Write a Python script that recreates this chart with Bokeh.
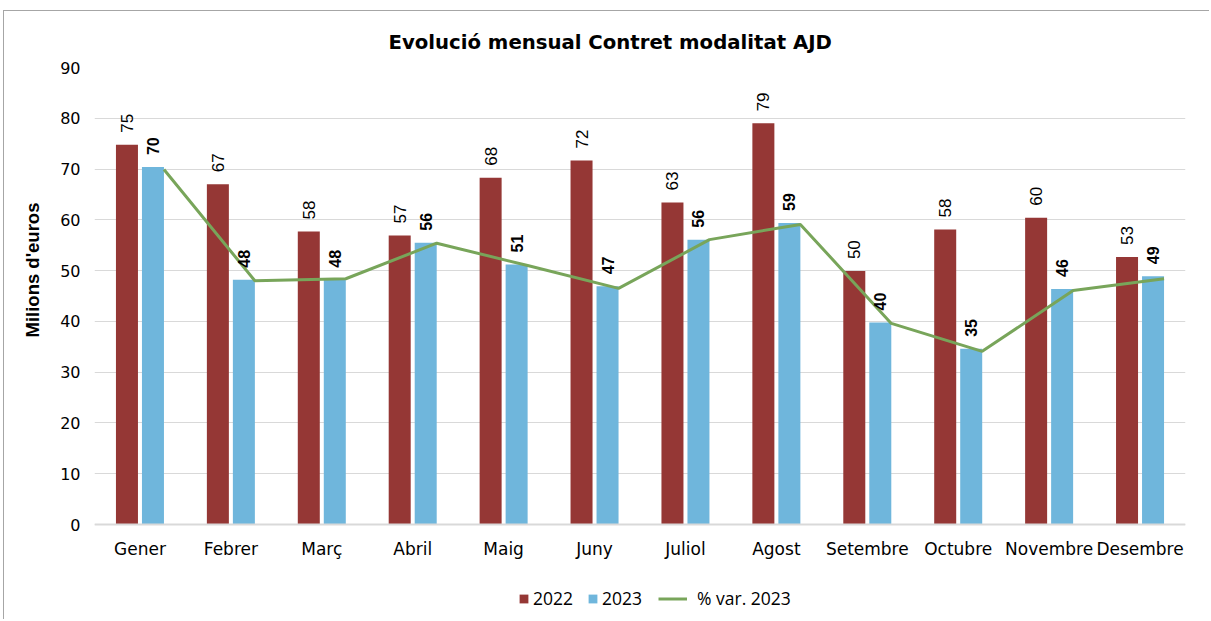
from bokeh.plotting import figure
from bokeh.models import (ColumnDataSource, FactorRange, Legend, LegendItem,
                          FixedTicker, Title)
from bokeh.transform import dodge
from bokeh.core.properties import value
from bokeh.embed import file_html
from bokeh.resources import INLINE
import math

months = ["Gener", "Febrer", "Març", "Abril", "Maig", "Juny", "Juliol",
          "Agost", "Setembre", "Octubre", "Novembre", "Desembre"]
v2022 = [74.8, 67.0, 57.7, 56.9, 68.3, 71.7, 63.4, 79.0, 49.9, 58.1, 60.4, 52.7]
v2023 = [70.4, 48.2, 48.2, 55.5, 51.2, 46.9, 56.1, 59.4, 39.8, 34.6, 46.4, 48.9]
var2023 = [69.9, 48.0, 48.4, 55.4, 51.0, 46.5, 56.1, 59.1, 39.6, 34.1, 46.1, 48.4]
y_ticks = [0, 10, 20, 30, 40, 50, 60, 70, 80, 90]

title = "Evolució mensual Contret modalitat AJD"
y_label = "Milions d'euros"
series_names = ["2022", "2023", "% var. 2023"]

RED = "#953735"
BLUE = "#6fb6dc"
GREEN = "#78a55a"

# layout (pixels)
WIDTH, HEIGHT = 1206, 609
B_LEFT, B_RIGHT, B_TOP, B_BOTTOM = 90, 25, 56, 4
VALUE_AXIS_PX = 457          # pixels from 0 to 90
frame_h = HEIGHT - B_TOP - B_BOTTOM
y_max = 90
y_min = y_max - frame_h * y_max / VALUE_AXIS_PX

src = ColumnDataSource(dict(
    m=months, a=v2022, b=v2023, c=var2023,
    la=[str(round(x)) for x in v2022],
    lb=[str(round(x)) for x in v2023],
))

p = figure(x_range=FactorRange(*months), y_range=(y_min, y_max),
           width=WIDTH, height=HEIGHT, output_backend="svg",
           toolbar_location=None, title=title,
           min_border_left=B_LEFT, min_border_right=B_RIGHT,
           min_border_top=B_TOP, min_border_bottom=B_BOTTOM,
           styles={"margin-left": "3px", "margin-top": "10px",
                   "border-left": "1px solid #a6a6a6",
                   "border-top": "1px solid #a6a6a6"})

p.title.align = "left"
p.title.offset = 294
p.title.text_font = "DejaVu Sans"
p.title.text_font_size = "19.7px"
p.title.text_font_style = "bold"
p.title.text_color = "black"
p.title.standoff = 28

W = 0.242
r1 = p.vbar(x=dodge("m", -0.143, range=p.x_range), top="a", bottom=0, width=W,
            source=src, fill_color=RED, line_color=None)
r2 = p.vbar(x=dodge("m", 0.143, range=p.x_range), top="b", bottom=0, width=W,
            source=src, fill_color=BLUE, line_color=None)
r3 = p.line(x=dodge("m", 0.264, range=p.x_range), y="c", source=src,
            line_color=GREEN, line_width=3)

p.text(x=dodge("m", -0.143, range=p.x_range), y="a", text="la", source=src,
       angle=math.pi / 2, text_align="left", text_baseline="middle",
       y_offset=-12, text_font=value("Liberation Sans"),
       text_font_size="17px", text_color="black")
p.text(x=dodge("m", 0.143, range=p.x_range), y="b", text="lb", source=src,
       angle=math.pi / 2, text_align="left", text_baseline="middle",
       y_offset=-12, text_font=value("Liberation Sans"),
       text_font_size="16px", text_font_style="bold", text_color="black")

# axes
p.yaxis.ticker = FixedTicker(ticks=y_ticks)
p.yaxis.axis_line_color = None
p.yaxis.major_tick_line_color = None
p.yaxis.minor_tick_line_color = None
p.yaxis.major_label_standoff = 8
p.yaxis.major_label_text_font = "DejaVu Sans"
p.yaxis.major_label_text_font_size = "16px"
p.yaxis.major_label_text_color = "black"

ylab = Title(text=y_label, align="left", offset=279, standoff=29,
             text_font="Liberation Sans", text_font_size="18.5px",
             text_font_style="bold", text_color="black")
p.add_layout(ylab, "left")

p.xaxis.fixed_location = 0
p.xaxis.axis_line_color = "#d9d9d9"
p.xaxis.axis_line_width = 2
p.xaxis.major_tick_line_color = None
p.xaxis.minor_tick_line_color = None
p.xaxis.major_label_standoff = 8
p.xaxis.major_label_text_font = "DejaVu Sans"
p.xaxis.major_label_text_font_size = "17px"
p.xaxis.major_label_text_color = "black"

p.xgrid.grid_line_color = None
p.ygrid.ticker = FixedTicker(ticks=y_ticks)
p.ygrid.grid_line_color = "#d9d9d9"
p.ygrid.grid_line_width = 1
p.outline_line_color = None
p.x_range.range_padding = 0
p.x_range.group_padding = 0

# legends
leg1 = Legend(items=[LegendItem(label=series_names[0], renderers=[r1]),
                     LegendItem(label=series_names[1], renderers=[r2])],
              orientation="horizontal", location=(424, 6),
              glyph_width=11, glyph_height=11, label_standoff=4, spacing=14,
              padding=0, margin=0, border_line_color=None,
              background_fill_alpha=0, label_text_font="Open Sans",
              label_text_font_size="17.5px", label_text_color="black")
leg2 = Legend(items=[LegendItem(label=series_names[2], renderers=[r3])],
              orientation="horizontal", location=(564, 6),
              glyph_width=29, glyph_height=11, label_standoff=10,
              padding=0, margin=0, border_line_color=None,
              background_fill_alpha=0, label_text_font="Open Sans",
              label_text_font_size="17.5px", label_text_color="black")
p.add_layout(leg1)
p.add_layout(leg2)

open("out.html", "w").write(file_html(p, INLINE))
